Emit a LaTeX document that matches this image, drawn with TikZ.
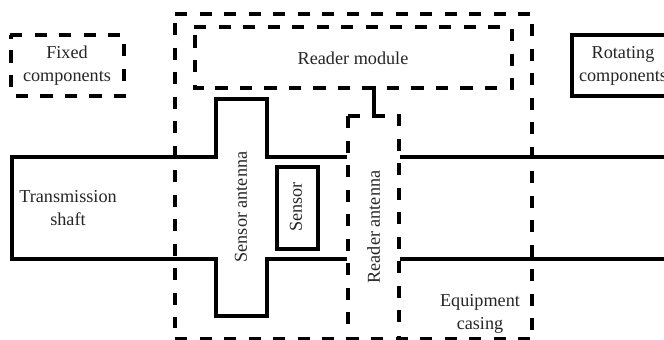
\documentclass[tikz,border=0pt]{standalone}
\usepackage{fontspec}
\setmainfont{Liberation Serif}
\tikzset{
  solidline/.style={line width=4pt,line cap=butt,line join=miter,black},
  dashline/.style={line width=4pt,line cap=butt,black,dash pattern=on 12.3pt off 12.2pt},
  label/.style={font=\fontsize{18.2}{23}\selectfont,align=center,text=black!85,inner sep=0pt}
}
\begin{document}
\begin{tikzpicture}[x=1pt,y=-1pt]
\clip (0,0) rectangle (664,340);
\fill[white] (0,0) rectangle (664,340);
% fixed components legend
\draw[dashline] (10,34.5) -- (121.5,34.5);
\draw[dashline] (123.5,44) -- (123.5,82);
\draw[dashline] (126,95.5) -- (15,95.5);
\draw[dashline] (11,87) -- (11,50);
\draw[solidline] (11,38.5) -- (11,34.5);
% rotating legend
\draw[solidline] (670,34.5) -- (572,34.5) -- (572,96) -- (670,96);
% outer casing
\draw[dashline] (175,14) -- (530,14);
\draw[dashline] (174.5,23) -- (174.5,328);
\draw[dashline] (531.7,24) -- (531.7,331);
\draw[dashline] (175,339) -- (530,339);
% reader module
\draw[dashline] (194,27) -- (500,27);
\draw[dashline] (511.5,29) -- (511.5,90);
\draw[dashline] (497,88) -- (204,88);
\draw[solidline] (193,88) -- (204,88);
\draw[solidline] (195,90) -- (195,85);
\draw[dashline] (195,72) -- (195,35);
% shaft and sensor antenna
\draw[solidline] (347,156.7) -- (266.5,156.7) -- (266.5,99.3) -- (215.5,99.3) -- (215.5,156.7) -- (11.5,156.7) -- (11.5,259.3) -- (215.5,259.3) -- (215.5,316) -- (266.5,316) -- (266.5,259.3) -- (347,259.3);
\draw[solidline] (399.7,156.7) -- (664,156.7);
\draw[solidline] (399.7,259.3) -- (664,259.3);
% sensor
\draw[solidline] (277,167) rectangle (317.7,248.7);
% reader antenna
\draw[dashline] (360,116) -- (348,116);
\draw[dashline] (348,116) -- (348,325);
\draw[dashline] (348,337) -- (348,340);
\draw[dashline] (399,114) -- (399,323);
\draw[dashline] (399,336) -- (399,340);
% link reader module to reader antenna
\coordinate (modlink) at (363,88);
\coordinate (antlink) at (385,116);
\draw[solidline] (modlink) -- (373.7,88) -- (373.7,116) -- (antlink);
% labels
\node[label] (fixed) at (67,66) {Fixed\\components};
\node[label] (rotating) at (623,66) {Rotating\\components};
\node[label] (module) at (353,58) {Reader module};
\node[label] (shaft) at (68,208.5) {Transmission\\shaft};
\node[label,rotate=90] (santenna) at (241,207) {Sensor antenna};
\node[label,rotate=90] (sensor) at (296,207) {Sensor};
\node[label,rotate=90] (rantenna) at (373.7,227) {Reader antenna};
\node[label] (casing) at (480,314) {Equipment\\casing};
\end{tikzpicture}
\end{document}
